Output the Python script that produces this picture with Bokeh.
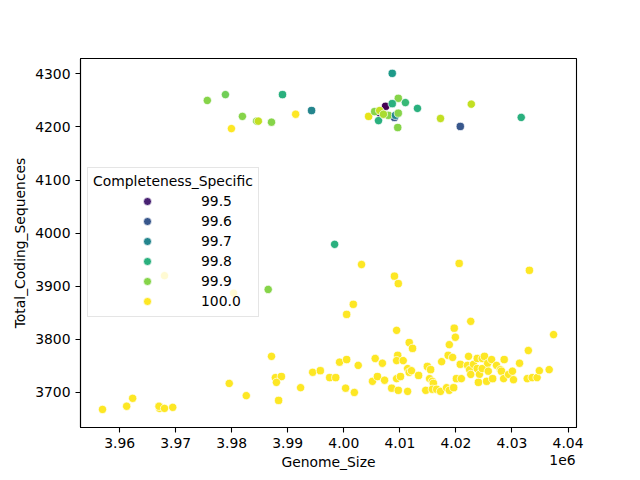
from bokeh.plotting import figure
from bokeh.models import (ColumnDataSource, Range1d, FixedTicker, CustomJSTickFormatter,
                          Legend, LegendItem, LinearAxis)
from bokeh.transform import linear_cmap
from bokeh.palettes import Viridis256
from bokeh.embed import file_html
from bokeh.resources import INLINE

# ---------------- data ----------------
genome_top = [4006390, 4009030, 3975650, 3978880, 3989060, 3994250, 3991410, 3981910,
              3984460, 3984750, 3987100, 3979950, 4008640, 4007460, 4009720, 4008640,
              4010990, 4013140, 4022740, 4004430, 4005510, 4006390, 4006190, 4007950,
              4009230, 4009720, 4009620, 4007070, 4017250, 4020780, 4031650]
cds_top = [4226, 4218, 4250, 4261, 4261, 4231, 4224, 4220,
           4211, 4211, 4209, 4197, 4301, 4239, 4254, 4244,
           4246, 4235, 4243, 4220, 4229, 4231, 4212, 4222,
           4222, 4226, 4199, 4224, 4216, 4201, 4218]
compl_top = [99.5, 99.6, 99.9, 99.88, 99.8, 99.7, 100.0, 99.9,
             99.9, 99.95, 99.9, 100.0, 99.75, 99.45, 99.9, 99.8,
             99.82, 99.8, 99.95, 99.98, 99.9, 99.95, 99.8, 99.9,
             99.7, 99.9, 99.9, 99.93, 99.95, 99.6, 99.8]

genome_mid = [3998360, 4003160, 4009030, 4009720, 4020580, 4033110, 4001690, 4000510,
              4022640, 4019700, 4009420, 3968010, 3980350, 3986510]
cds_mid = [3979, 3941, 3919, 3905, 3943, 3930, 3866, 3847,
           3834, 3821, 3817, 3920, 3887, 3894]
compl_mid = [99.8, 100.0, 100.0, 100.0, 100.0, 100.0, 100.0, 100.0,
             100.0, 100.0, 100.0, 100.0, 100.0, 99.9]

genome_low = [3956950, 3961260, 3962330, 3967130, 3967030, 3968010, 3969480, 3979560,
              3982600, 3987100, 3987790, 3988860, 3987980, 3988370, 3992290, 3994440,
              3995810, 3997480, 3998560, 3999240, 4000510, 4002570, 4000320, 4001880,
              4005600, 4006880, 4005110, 4006000, 4007270, 4009420, 4010110, 4008540,
              4009720, 4011380, 4009620, 4009420, 4010600, 4011380, 4011670, 4012070,
              4011670, 4012260, 4013340, 4014900, 4015490, 4015300, 4015790, 4015980,
              4014610, 4015790, 4016570, 4017250, 4018330, 4018820, 4019600, 4017450,
              4018820, 4019900, 4018620, 4019410, 4020780, 4020090, 4020970, 4022250,
              4022050, 4022440, 4022640, 4023130, 4023810, 4023810, 4024200, 4024010,
              4024690, 4024690, 4025090, 4025480, 4025670, 4025770, 4026360, 4026550,
              4027240, 4027930, 4028120, 4028610, 4028510, 4029390, 4030080, 4030270,
              4031350, 4032920, 4032720, 4033600, 4034480, 4034880, 4036640, 4037420]
cds_low = [3668, 3674, 3689, 3670, 3674, 3670, 3672, 3717,
           3694, 3768, 3728, 3730, 3719, 3685, 3709, 3738,
           3741, 3728, 3728, 3757, 3762, 3751, 3708, 3700,
           3764, 3755, 3721, 3730, 3723, 3726, 3730, 3708,
           3704, 3702, 3770, 3760, 3760, 3745, 3738, 3741,
           3794, 3783, 3732, 3749, 3743, 3726, 3721, 3717,
           3704, 3706, 3706, 3702, 3709, 3704, 3709, 3758,
           3790, 3804, 3770, 3766, 3753, 3726, 3726, 3768,
           3751, 3743, 3734, 3753, 3764, 3745, 3734, 3719,
           3764, 3745, 3768, 3721, 3755, 3740, 3762, 3726,
           3751, 3743, 3740, 3762, 3726, 3734, 3740, 3724,
           3755, 3779, 3726, 3728, 3728, 3741, 3743, 3809]
compl_low = [100.0] * len(genome_low)

legend_values = [99.5, 99.6, 99.7, 99.8, 99.9, 100.0]
legend_labels = ["99.5", "99.6", "99.7", "99.8", "99.9", "100.0"]
x_ticks = [3.96e6, 3.97e6, 3.98e6, 3.99e6, 4.00e6, 4.01e6, 4.02e6, 4.03e6, 4.04e6]
y_ticks = [3700, 3800, 3900, 4000, 4100, 4200, 4300]
offset_text = "1e6"

# ---------------- figure ----------------
CMIN, CMAX = 99.45, 100.0
FONT = "DejaVu Sans"
FS = "13.9px"
XMIN, XMAX = 3953025, 4041511

p = figure(frame_width=496, frame_height=369,
           min_border_left=80, min_border_right=64, min_border_top=58, min_border_bottom=53,
           x_range=Range1d(XMIN, XMAX), y_range=Range1d(3634, 4329),
           output_backend="svg", toolbar_location=None, tools="")
p.background_fill_color = "white"
p.border_fill_color = "white"
p.outline_line_color = "black"
p.outline_line_width = 1.1
p.xgrid.visible = False
p.ygrid.visible = False

xa = p.xaxis[0]
ya = p.yaxis[0]
for ax in (xa, ya):
    ax.axis_line_color = "black"
    ax.axis_line_width = 1.1
    ax.major_tick_line_color = "black"
    ax.major_tick_line_width = 1.1
    ax.major_tick_out = 5
    ax.major_tick_in = 0
    ax.minor_tick_line_color = None
    ax.major_label_text_font = FONT
    ax.major_label_text_font_size = FS
    ax.major_label_text_color = "black"
    ax.axis_label_text_font = FONT
    ax.axis_label_text_font_size = FS
    ax.axis_label_text_font_style = "normal"
    ax.axis_label_text_color = "black"
    ax.major_label_standoff = 5

xa.ticker = FixedTicker(ticks=x_ticks)
ya.ticker = FixedTicker(ticks=y_ticks)
xa.formatter = CustomJSTickFormatter(code="return (tick/1e6).toFixed(2);")
ya.axis_label = "Total_Coding_Sequences"
ya.axis_label_standoff = 4

# second, unlined axis that carries the offset text "1e6" and the x label in one row
xb = LinearAxis(ticker=FixedTicker(ticks=[4039010]),
                formatter=CustomJSTickFormatter(code='return "%s";' % offset_text),
                axis_label="Genome_Size")
xb.axis_line_color = None
xb.major_tick_line_color = None
xb.minor_tick_line_color = None
xb.major_tick_out = 0
xb.major_tick_in = 0
xb.major_label_standoff = 4
xb.major_label_text_font = FONT
xb.major_label_text_font_size = FS
xb.major_label_text_color = "black"
xb.axis_label_text_font = FONT
xb.axis_label_text_font_size = FS
xb.axis_label_text_font_style = "normal"
xb.axis_label_text_color = "black"
xb.axis_label_standoff = -14
p.add_layout(xb, "below")

all_compl = compl_top + compl_mid + compl_low
src = ColumnDataSource(dict(
    genome=genome_top + genome_mid + genome_low,
    cds=cds_top + cds_mid + cds_low,
    completeness=all_compl,
))
cmap = linear_cmap("completeness", Viridis256, CMIN, CMAX)
main = p.scatter("genome", "cds", source=src, size=8.3, fill_color=cmap,
                 line_color="white", line_width=0.7)

# legend: each entry uses the colour of a point having that completeness value
items = [LegendItem(label=lab, renderers=[main], index=all_compl.index(v))
         for v, lab in zip(legend_values, legend_labels)]

legend = Legend(items=items, location=(7, 110), title="Completeness_Specific",
                title_text_font=FONT, title_text_font_size=FS, title_text_font_style="normal",
                title_text_color="black", title_standoff=2,
                label_text_font=FONT, label_text_font_size=FS, label_text_color="black",
                glyph_width=108, glyph_height=20, label_height=20, label_standoff=-28,
                spacing=0, padding=5, margin=0,
                border_line_color="#cccccc", border_line_width=1,
                background_fill_color="white", background_fill_alpha=0.8)
p.add_layout(legend, "center")

open("out.html", "w").write(file_html(p, INLINE))
